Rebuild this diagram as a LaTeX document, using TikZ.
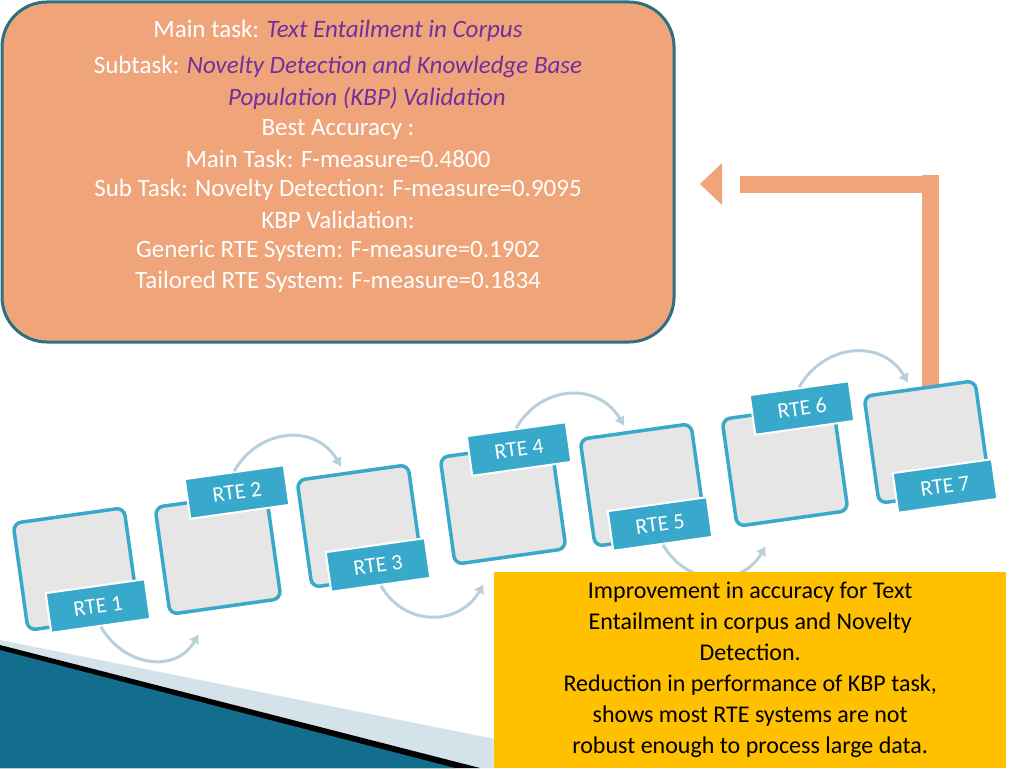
\documentclass[tikz,border=0pt]{standalone}
\usepackage{fontspec}
\setmainfont{Carlito}
\usetikzlibrary{arrows.meta, positioning, calc}
\definecolor{peach}{RGB}{240,164,122}
\definecolor{tealedge}{RGB}{46,112,128}
\definecolor{violet}{RGB}{112,48,160}
\definecolor{panelfill}{RGB}{230,230,230}
\definecolor{rteblue}{RGB}{57,169,203}
\definecolor{flowarc}{RGB}{184,208,220}
\definecolor{note}{RGB}{255,192,0}
\definecolor{deepteal}{RGB}{18,110,140}
\tikzset{
    panel/.style={rectangle, rounded corners=8pt, minimum width=112pt, minimum height=108pt, draw=rteblue, line width=3.5pt, fill=panelfill, rotate=8},
    rtelabel/.style={rectangle, minimum width=100pt, minimum height=40pt, draw=white, line width=2pt, fill=rteblue, text=white, font=\fontsize{22}{24}\selectfont, rotate=8},
    flow/.style={draw=flowarc, line width=3pt, -{Latex[length=9pt, width=12pt]}},
    bigarrow/.style={draw=peach, line width=17pt}
}
\begin{document}
\begin{tikzpicture}[x=1pt, y=-1pt]
    \useasboundingbox (0,0) rectangle (1024,768);
    \fill[white] (0,0) rectangle (1024,768);

    % Corner decoration
    \fill[flowarc!60] (0,640) -- (500,740) -- (500,768) -- (0,768) -- cycle;
    \fill[black] (0,645) -- (480,768) -- (0,768) -- cycle;
    \fill[deepteal] (0,650) -- (455,768) -- (0,768) -- cycle;

    % Result box
    \node (result) [rectangle, rounded corners=45pt, draw=tealedge, line width=3pt, fill=peach,
        minimum width=672pt, minimum height=340pt] at (338,172) {};
    \begin{scope}[font=\fontsize{25}{27}\selectfont, text=white]
        \node (main) at (338,31) {Main task: \textcolor{violet}{\itshape Text Entailment in Corpus}};
        \node (sub) at (338,67) {Subtask: \textcolor{violet}{\itshape Novelty Detection and Knowledge Base}};
        \node (sub2) at (367,98) {\textcolor{violet}{\itshape Population (KBP) Validation}};
        \node (best) at (338,129) {Best Accuracy :};
        \node (mt) at (338,159) {Main Task: F-measure=0.4800};
        \node (st) at (338,190) {Sub Task: Novelty Detection: F-measure=0.9095};
        \node (kbp) at (338,220) {KBP Validation:};
        \node (gen) at (338,251) {Generic RTE System: F-measure=0.1902};
        \node (tai) at (338,282) {Tailored RTE System: F-measure=0.1834};
    \end{scope}

    % Return arrow
    \coordinate (up) at (930,450);
    \coordinate (bend) at (930,184);
    \coordinate (tip) at (700,184);
    \draw[bigarrow] (up) -- (930,175);
    \draw[bigarrow] ($(bend)+(8,0)$) -- (740,184);
    \fill[peach] (tip) -- (722,163) -- (722,205) -- cycle;

    % Panels
    \node (p1) [panel] at (76,569) {};
    \node (p2) [panel] at (218,553) {};
    \node (p3) [panel] at (360,526) {};
    \node (p4) [panel] at (503,503) {};
    \node (p5) [panel] at (643,485) {};
    \node (p6) [panel] at (785,465) {};
    \node (p7) [panel] at (927,442) {};

    % Labels
    \node (r1) [rtelabel] at (98,606) {RTE 1};
    \node (r2) [rtelabel] at (237,492) {RTE 2};
    \node (r3) [rtelabel] at (378,565) {RTE 3};
    \node (r4) [rtelabel] at (519,449) {RTE 4};
    \node (r5) [rtelabel] at (660,524) {RTE 5};
    \node (r6) [rtelabel] at (802,408) {RTE 6};
    \node (r7) [rtelabel] at (945,486) {RTE 7};

    % Flow arcs
    \draw[flow] (r1.south) to[out=-60, in=-120, looseness=1.2] ($(p2.south west)+(30,18)$);
    \draw[flow] (r2.north) to[out=60, in=120, looseness=1.2] ($(p3.north west)+(46,-12)$);
    \draw[flow] (r3.south) to[out=-60, in=-120, looseness=1.2] ($(p4.south west)+(30,18)$);
    \draw[flow] (r4.north) to[out=60, in=120, looseness=1.2] ($(p5.north west)+(46,-12)$);
    \draw[flow] (r5.south) to[out=-60, in=-120, looseness=1.2] ($(p6.south west)+(30,18)$);
    \draw[flow] (r6.north) to[out=60, in=120, looseness=1.2] ($(p7.north west)+(46,-12)$);

    % Summary note
    \node (note) [rectangle, fill=note, minimum width=512pt, minimum height=196pt, anchor=north west,
        align=center, font=\fontsize{24}{31}\selectfont] at (494,572)
        {Improvement in accuracy for Text\\Entailment in corpus and Novelty\\Detection.\\
         Reduction in performance of KBP task,\\shows most RTE systems are not\\robust enough to process large data.};
\end{tikzpicture}
\end{document}
